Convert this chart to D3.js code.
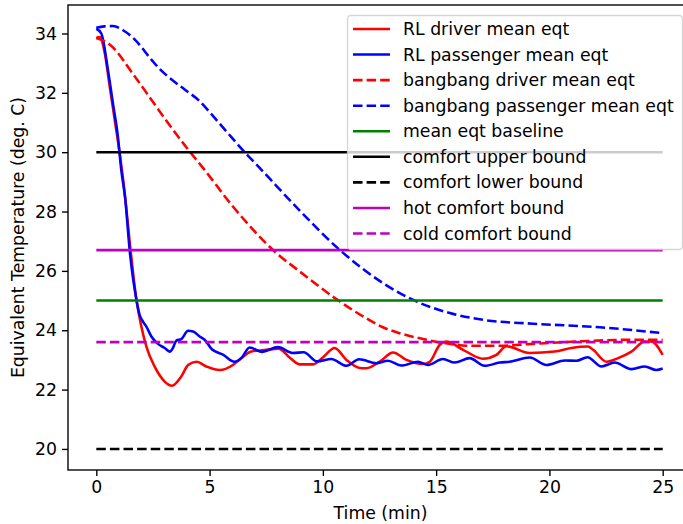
<!DOCTYPE html>
<html>
<head>
<meta charset="utf-8">
<script src="https://cdn.jsdelivr.net/npm/d3@7"></script>
<style>
  html, body { margin: 0; padding: 0; background: #fff; }
  svg { display: block; font-family: "DejaVu Sans", sans-serif; }
</style>
</head>
<body>
<svg id="chart" width="683" height="524"></svg>
<script>
// Time stamps (min) and mean equivalent temperatures (deg. C)
const rlDriverTime = [0, 0.15, 0.37, 0.59, 0.81, 1.03, 1.22, 1.51, 1.77, 1.99, 2.21, 2.57, 3.02, 3.34, 3.75, 4.05, 4.42, 4.86, 5.44, 6.03, 6.4, 6.84, 7.5, 8.05, 8.53, 8.98, 9.56, 10.0, 10.52, 11.04, 11.62, 11.92, 12.51, 13.1, 13.69, 14.42, 14.72, 15.16, 15.45, 16.19, 17.07, 17.66, 18.1, 19.13, 20.23, 20.97, 21.7, 21.93, 22.52, 23.03, 23.62, 24.21, 24.5, 25.0];
const rlDriver = [33.85, 33.88, 33.35, 32.22, 31.1, 29.97, 28.85, 26.71, 25.03, 24.12, 23.45, 22.78, 22.27, 22.13, 22.44, 22.83, 22.94, 22.78, 22.66, 22.83, 23.06, 23.28, 23.34, 23.38, 23.08, 22.85, 22.85, 23.08, 23.4, 23.0, 22.73, 22.72, 22.94, 23.25, 23.0, 22.86, 22.94, 23.51, 23.62, 23.34, 23.04, 23.17, 23.46, 23.23, 23.28, 23.4, 23.45, 23.34, 22.94, 23.06, 23.28, 23.62, 23.62, 23.17];

const rlPassengerTime = [0, 0.22, 0.51, 0.73, 0.95, 1.1, 1.28, 1.47, 1.77, 1.91, 2.06, 2.21, 2.43, 2.72, 3.02, 3.24, 3.38, 3.53, 3.75, 4.05, 4.27, 4.56, 4.78, 5.1, 5.59, 6.1, 6.4, 6.77, 7.3, 8.02, 8.68, 9.15, 9.75, 10.37, 11.04, 11.6, 12.36, 12.87, 13.47, 14.2, 14.64, 15.3, 15.82, 16.48, 17.14, 17.81, 18.25, 19.13, 19.87, 20.68, 21.19, 21.68, 22.3, 22.88, 23.62, 24.21, 24.72, 25.0];
const rlPassenger = [34.16, 34.0, 32.79, 31.66, 30.54, 29.41, 28.4, 26.71, 25.03, 24.52, 24.29, 24.12, 23.79, 23.54, 23.4, 23.28, 23.4, 23.65, 23.7, 23.98, 23.96, 23.79, 23.68, 23.36, 23.18, 22.94, 23.06, 23.42, 23.27, 23.43, 23.23, 23.26, 22.95, 23.03, 22.8, 23.02, 22.89, 22.97, 22.81, 22.94, 22.83, 23.03, 22.91, 23.06, 22.8, 22.91, 22.94, 23.08, 22.83, 22.98, 22.97, 23.09, 22.78, 22.91, 22.69, 22.78, 22.66, 22.71];

const bbDriverTime = [0, 0.59, 1.69, 2.43, 3.16, 4.05, 4.71, 6.03, 7.95, 8.98, 10.5, 11.92, 12.65, 13.39, 14.57, 15.5, 16.34, 17.81, 19.28, 21.48, 23.69, 25.0];
const bbDriver = [33.85, 33.63, 32.56, 31.77, 30.99, 30.09, 29.47, 28.17, 26.6, 25.98, 25.1, 24.4, 24.1, 23.9, 23.68, 23.55, 23.48, 23.48, 23.54, 23.63, 23.68, 23.68];

const bbPassengerTime = [0, 0.35, 0.73, 1.2, 1.69, 2.43, 2.8, 3.16, 3.9, 4.56, 5.0, 5.74, 6.55, 7.21, 8.98, 10.74, 12.65, 14.13, 15.6, 17.07, 19.28, 22.22, 25.0];
const bbPassenger = [34.19, 34.24, 34.25, 34.1, 33.8, 33.12, 32.8, 32.55, 32.11, 31.72, 31.35, 30.7, 30.0, 29.47, 28.03, 26.71, 25.59, 24.97, 24.58, 24.35, 24.22, 24.1, 23.9];

// Reference levels drawn across the whole run
const boundSpan = [0, 25];
const meanBaseline = 25.0;
const comfortUpper = 30;
const comfortLower = 20;
const hotComfort = 26.7;
const coldComfort = 23.6;

const xTicks = [0, 5, 10, 15, 20, 25];
const yTicks = [20, 22, 24, 26, 28, 30, 32, 34];

const seriesLabels = [
  "RL driver mean eqt", "RL passenger mean eqt", "bangbang driver mean eqt",
  "bangbang passenger mean eqt", "mean eqt baseline", "comfort upper bound",
  "comfort lower bound", "hot comfort bound", "cold comfort bound"
];

const svg = d3.select("#chart");
const frame = { left: 68, right: 691, top: 5, bottom: 470 };
const fontPx = 17.3;
const lw = 2.56;
const dash = "9.5,4.1";

const x = d3.scaleLinear().domain([-1.25, 26.25]).range([frame.left, frame.right]);
const y = d3.scaleLinear().domain([19.29, 34.96]).range([frame.bottom, frame.top]);

const zip = (ts, vs) => ts.map((t, i) => [t, vs[i]]);
const flat = v => boundSpan.map(t => [t, v]);

const series = [
  { label: seriesLabels[0], data: zip(rlDriverTime, rlDriver), color: "#ff0000", dashed: false },
  { label: seriesLabels[1], data: zip(rlPassengerTime, rlPassenger), color: "#0000ff", dashed: false },
  { label: seriesLabels[2], data: zip(bbDriverTime, bbDriver), color: "#ff0000", dashed: true },
  { label: seriesLabels[3], data: zip(bbPassengerTime, bbPassenger), color: "#0000ff", dashed: true },
  { label: seriesLabels[4], data: flat(meanBaseline), color: "#008000", dashed: false },
  { label: seriesLabels[5], data: flat(comfortUpper), color: "#000000", dashed: false },
  { label: seriesLabels[6], data: flat(comfortLower), color: "#000000", dashed: true },
  { label: seriesLabels[7], data: flat(hotComfort), color: "#bf00bf", dashed: false },
  { label: seriesLabels[8], data: flat(coldComfort), color: "#bf00bf", dashed: true }
];

const line = d3.line()
  .x(d => x(d[0]))
  .y(d => y(d[1]))
  .curve(d3.curveMonotoneX);

// Lines
const plot = svg.append("g");
series.forEach(s => {
  plot.append("path")
    .datum(s.data)
    .attr("d", line)
    .attr("fill", "none")
    .attr("stroke", s.color)
    .attr("stroke-width", lw)
    .attr("stroke-dasharray", s.dashed ? dash : null);
});

// Frame (right edge falls just past the canvas)
svg.append("rect")
  .attr("x", frame.left).attr("y", frame.top)
  .attr("width", frame.right - frame.left).attr("height", frame.bottom - frame.top)
  .attr("fill", "none")
  .attr("stroke", "#000")
  .attr("stroke-width", 1.37);

// Axes
const xAxis = d3.axisBottom(x).tickValues(xTicks).tickFormat(d3.format("d"))
  .tickSize(6).tickPadding(5);
const yAxis = d3.axisLeft(y).tickValues(yTicks).tickFormat(d3.format("d"))
  .tickSize(6).tickPadding(5);

const gx = svg.append("g").attr("transform", `translate(0,${frame.bottom})`).call(xAxis);
const gy = svg.append("g").attr("transform", `translate(${frame.left},0)`).call(yAxis);
[gx, gy].forEach(g => {
  g.select(".domain").remove();
  g.selectAll(".tick line").attr("stroke", "#000").attr("stroke-width", 1.37);
  g.selectAll(".tick text").attr("fill", "#000")
    .style("font-size", fontPx + "px")
    .style("font-family", "'DejaVu Sans', sans-serif");
});

svg.append("text")
  .attr("x", (x(0) + x(25)) / 2 + 1)
  .attr("y", 519)
  .attr("text-anchor", "middle")
  .style("font-size", fontPx + "px")
  .text("Time (min)");

svg.append("text")
  .attr("transform", `translate(24,${(frame.top + frame.bottom) / 2}) rotate(-90)`)
  .attr("text-anchor", "middle")
  .style("font-size", fontPx + "px")
  .text("Equivalent Temperature (deg. C)");

// Legend
const lg = svg.append("g");
lg.append("rect")
  .attr("x", 347.5).attr("y", 15.5)
  .attr("width", 335).attr("height", 234)
  .attr("rx", 3.5)
  .attr("fill", "#fff").attr("fill-opacity", 0.8)
  .attr("stroke", "#ccc").attr("stroke-opacity", 0.8)
  .attr("stroke-width", 1.37);

const rowY = d3.scaleLinear().domain([0, 8]).range([29, 233.5]);
series.forEach((s, i) => {
  const cy = rowY(i);
  lg.append("line")
    .attr("x1", 353).attr("x2", 390)
    .attr("y1", cy).attr("y2", cy)
    .attr("stroke", s.color)
    .attr("stroke-width", lw)
    .attr("stroke-dasharray", s.dashed ? dash : null);
  lg.append("text")
    .attr("x", 403).attr("y", cy)
    .attr("dy", "0.35em")
    .style("font-size", fontPx + "px")
    .attr("fill", "#000")
    .text(s.label);
});
</script>
</body>
</html>
